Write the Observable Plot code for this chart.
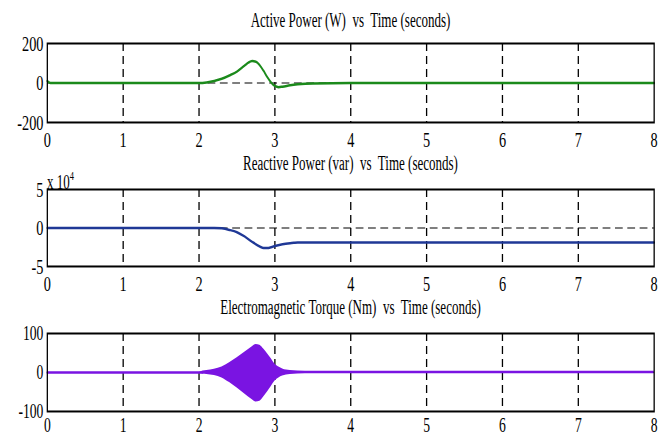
<!DOCTYPE html>
<html>
<head>
<meta charset="utf-8">
<script src="https://cdn.jsdelivr.net/npm/d3@7"></script>
<script src="https://cdn.jsdelivr.net/npm/@observablehq/plot@0.6"></script>
<style>
  html, body { margin: 0; padding: 0; background: white; }
  #outer { position: relative; width: 669px; height: 437px; overflow: hidden; background: white; }
  #inner { position: absolute; left: 0; top: 0; width: 1029px; height: 437px; transform: scaleX(0.65); transform-origin: 0 0; }
  .title { position: absolute; font-family: "Liberation Serif", "Times New Roman", serif; font-size: 20px; line-height: 20px; text-align: center; color: #000; white-space: pre; }
  .panel { position: absolute; left: 0; }
  .mult { position: absolute; font-family: "Liberation Serif", serif; font-size: 20px; line-height: 20px; color: #000; }
  .mult sup { font-size: 13px; vertical-align: 9px; }
</style>
</head>
<body>
<div id="outer"><div id="inner"></div></div>
<script>
// ---- data ----
const xTicks = [0, 1, 2, 3, 4, 5, 6, 7, 8];
const gridX = [1, 2, 3, 4, 5, 6, 7];

const titles = [
  "Active Power (W)  vs  Time (seconds)",
  "Reactive Power (var)  vs  Time (seconds)",
  "Electromagnetic Torque (Nm)  vs  Time (seconds)"
];

// Active power (W)
const activeT = [0, 0.04, 2.0, 2.1, 2.2, 2.3, 2.4, 2.5, 2.6, 2.65, 2.7, 2.75, 2.8, 2.85, 2.9, 2.95, 3.0, 3.05, 3.1, 3.2, 3.3, 3.5, 4.0, 8.0];
const activeP = [10, 0, 0, 3, 10, 21, 38, 58, 88, 103, 111, 108, 90, 62, 30, 3, -15, -21, -19, -12, -7, -2, 0, 0];
const activeTicks = [-200, 0, 200];

// Reactive power (var)
const reactT = [0, 2.2, 2.3, 2.4, 2.5, 2.6, 2.7, 2.8, 2.85, 2.9, 2.95, 3.0, 3.1, 3.2, 3.25, 3.3, 8.0];
const reactQ = [0, 0, -500, -2500, -5500, -11000, -18000, -24000, -26000, -26000, -25000, -23500, -21000, -19700, -19300, -19000, -19000];
const reactTicks = [-50000, 0, 50000];

// Electromagnetic torque (Nm): flat part, then envelope of the fast oscillation
const torqueFlatT = [0, 2.05];
const torqueFlatV = [0, 0];
const torqueT  = [2.0, 2.05, 2.1, 2.2, 2.3, 2.4, 2.5, 2.6, 2.7, 2.75, 2.8, 2.85, 2.9, 2.95, 3.0, 3.05, 3.1, 3.2, 3.3, 3.5, 8.0];
const torqueHi = [0, 4, 5, 8, 14, 25, 38, 52, 66, 72, 70, 60, 48, 35, 21, 14, 9, 5, 4, 3, 3];
const torqueLo = [0, -4, -5, -8, -14, -26, -40, -55, -70, -76, -74, -63, -50, -36, -22, -14, -9, -5, -4, -3, -3];
const torqueTicks = [-100, 0, 100];

// ---- drawing ----
const SX = 0.65;
const W = 669 / SX;
const mL = 47 / SX, mR = (669 - 654) / SX;
const inner = document.getElementById("inner");

function addTitle(text, centerY) {
  const d = document.createElement("div");
  d.className = "title";
  d.style.left = mL + "px";
  d.style.width = (W - mL - mR) + "px";
  d.style.top = (centerY - 10) + "px";
  d.textContent = text;
  inner.appendChild(d);
}

function panel({top, plotH, yDomain, yTicks, yFormat, marks, xPad = 9, fs = 22}) {
  const mT = 10, mB = 30;
  const chart = Plot.plot({
    width: W,
    height: mT + plotH + mB,
    marginLeft: mL, marginRight: mR, marginTop: mT, marginBottom: mB,
    style: {fontFamily: "Liberation Serif, Times New Roman, serif", fontSize: fs + "px", background: "white", overflow: "visible"},
    x: {domain: [0, 8], ticks: xTicks, tickSize: 0, tickPadding: xPad, label: null, tickFormat: d => String(d)},
    y: {domain: yDomain, ticks: yTicks, tickSize: 0, tickPadding: 6, label: null, tickFormat: yFormat},
    marks: [
      Plot.ruleX(gridX, {stroke: "black", strokeWidth: 2, strokeDasharray: "8,5"}),
      Plot.ruleY([0], {stroke: "black", strokeWidth: 1.2, strokeDasharray: "12,7"}),
      ...marks,
      Plot.frame({stroke: "black", strokeWidth: 2})
    ]
  });
  const wrap = document.createElement("div");
  wrap.className = "panel";
  wrap.style.top = (top - mT) + "px";
  wrap.appendChild(chart);
  inner.appendChild(wrap);
}

addTitle(titles[0], 20);
panel({
  top: 43, plotH: 79, yDomain: [-200, 200], yTicks: activeTicks, yFormat: d => String(d),
  marks: [
    Plot.line(activeT.map((t, i) => ({t, v: activeP[i]})), {x: "t", y: "v", stroke: "#1b8a1b", strokeWidth: 2.5, curve: "monotone-x"})
  ]
});

addTitle(titles[1], 163);
panel({
  top: 189, plotH: 77, yDomain: [-50000, 50000], yTicks: reactTicks, yFormat: d => String(d / 10000),
  marks: [
    Plot.line(reactT.map((t, i) => ({t, v: reactQ[i]})), {x: "t", y: "v", stroke: "#1f3896", strokeWidth: 2.5, curve: "monotone-x"})
  ]
});
const mult = document.createElement("div");
mult.className = "mult";
mult.style.left = (47 / SX) + "px";
mult.style.top = "166px";
mult.innerHTML = "x 10<sup>4</sup>";
inner.appendChild(mult);

addTitle(titles[2], 307);
panel({
  top: 333, plotH: 78, yDomain: [-100, 100], yTicks: torqueTicks, yFormat: d => String(d), xPad: 6, fs: 21,
  marks: [
    Plot.line(torqueFlatT.map((t, i) => ({t, v: torqueFlatV[i]})), {x: "t", y: "v", stroke: "#7a14e2", strokeWidth: 2.5}),
    Plot.areaY(torqueT.map((t, i) => ({t, lo: torqueLo[i], hi: torqueHi[i]})), {x: "t", y1: "lo", y2: "hi", fill: "#7a14e2", curve: "monotone-x"})
  ]
});
</script>
</body>
</html>
